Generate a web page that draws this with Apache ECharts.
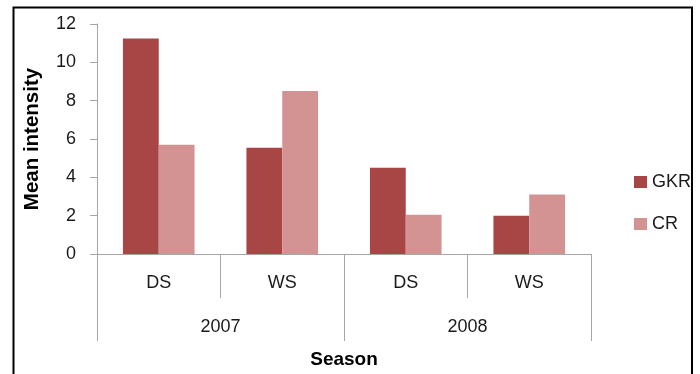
<!DOCTYPE html>
<html>
<head>
<meta charset="utf-8">
<script src="https://cdn.jsdelivr.net/npm/echarts@6/dist/echarts.min.js"></script>
<style>
html,body{margin:0;padding:0;background:#fff;}
#chart{width:700px;height:374px;}
</style>
</head>
<body>
<div id="chart"></div>
<script>
const seasons = ['DS', 'WS', 'DS', 'WS'];
const years = ['2007', '2008'];
const gkrValues = [11.25, 5.55, 4.5, 2.0];
const crValues = [5.7, 8.5, 2.05, 3.1];
const yTicks = { min: 0, max: 12, interval: 2 };

const FONT = 'Liberation Sans';
const axisGray = '#a6a6a6';

const chart = echarts.init(document.getElementById('chart'), null, { renderer: 'canvas' });
chart.setOption({
  animation: false,
  backgroundColor: '#fff',
  textStyle: { fontFamily: FONT },
  grid: { left: 97, top: 24, right: 109, bottom: 118, containLabel: false },
  legend: {
    orient: 'vertical',
    left: 629,
    top: 168,
    itemWidth: 13,
    itemHeight: 12,
    itemGap: 24,
    icon: 'rect',
    textStyle: { fontFamily: FONT, fontSize: 18, color: '#1a1a1a' },
    data: ['GKR', 'CR']
  },
  xAxis: [
    {
      type: 'category',
      data: seasons,
      position: 'bottom',
      axisLine: { show: true, lineStyle: { color: axisGray, width: 1 } },
      axisTick: { show: true, length: 44, interval: 0, lineStyle: { color: axisGray } },
      axisLabel: { margin: 20, fontFamily: FONT, fontSize: 18, color: '#1a1a1a', interval: 0 },
      name: 'Season',
      nameLocation: 'middle',
      nameGap: 96,
      nameTextStyle: { fontFamily: FONT, fontSize: 19, fontWeight: 'bold', color: '#000' }
    },
    {
      type: 'category',
      data: years,
      position: 'bottom',
      offset: 0,
      axisLine: { show: false },
      axisTick: { show: true, length: 87, interval: 0, lineStyle: { color: axisGray } },
      axisLabel: { margin: 64, fontFamily: FONT, fontSize: 18, color: '#1a1a1a', interval: 0 }
    }
  ],
  yAxis: {
    type: 'value',
    min: yTicks.min,
    max: yTicks.max,
    interval: yTicks.interval,
    axisLine: { show: true, lineStyle: { color: axisGray, width: 1 } },
    axisTick: { show: true, length: 7, lineStyle: { color: axisGray } },
    splitLine: { show: false },
    axisLabel: { margin: 21, fontFamily: FONT, fontSize: 18, color: '#1a1a1a' },
    name: 'Mean intensity',
    nameLocation: 'middle',
    nameGap: 54,
    nameTextStyle: { fontFamily: FONT, fontSize: 20.5, fontWeight: 'bold', color: '#000' }
  },
  series: [
    {
      name: 'GKR',
      type: 'bar',
      xAxisIndex: 0,
      data: gkrValues,
      barGap: '0%',
      barCategoryGap: '42%',
      itemStyle: { color: '#a84646' }
    },
    {
      name: 'CR',
      type: 'bar',
      xAxisIndex: 0,
      data: crValues,
      barGap: '0%',
      barCategoryGap: '42%',
      itemStyle: { color: '#d39393' }
    }
  ],
  graphic: [
    {
      type: 'rect',
      shape: { x: 13.5, y: 7.5, width: 678.5, height: 380 },
      style: { fill: null, stroke: '#000', lineWidth: 2 },
      silent: true
    }
  ]
});
</script>
</body>
</html>
